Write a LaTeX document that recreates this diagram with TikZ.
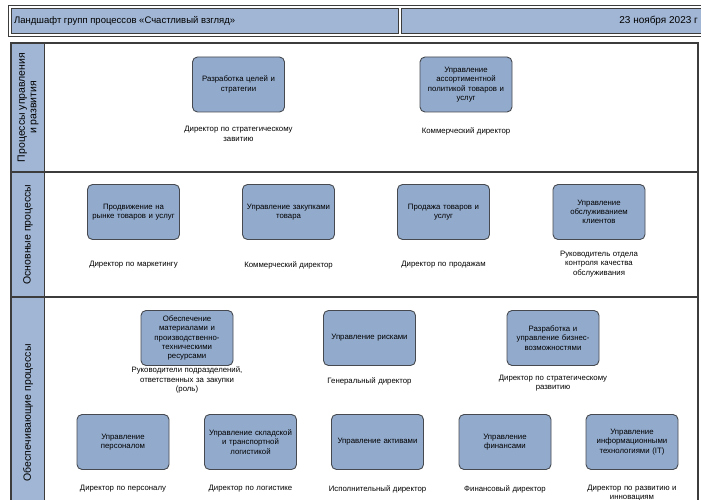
\documentclass[tikz,border=0pt]{standalone}
\usepackage{fontspec}
\setmainfont{Liberation Sans}
\definecolor{hdrfill}{RGB}{160,182,212}
\definecolor{boxfill}{RGB}{146,170,204}
\definecolor{boxline}{RGB}{70,74,80}
\definecolor{frameline}{RGB}{60,60,60}
\begin{document}
\begin{tikzpicture}[x=1pt,y=-1pt,
  proc/.style={draw=boxline, fill=boxfill, rounded corners=5pt, line width=0.9pt,
    minimum width=90pt, minimum height=55pt, text width=92pt, align=center,
    inner sep=0pt, font=\fontsize{7.8}{9.3}\selectfont},
  role/.style={align=center, text width=130pt, inner sep=0pt,
    font=\fontsize{7.8}{9.6}\selectfont},
  lanelabel/.style={rotate=90, align=center, font=\fontsize{10.5}{11.5}\selectfont}]
\useasboundingbox (0,0) rectangle (701,500);
\fill[white] (0,0) rectangle (701,500);
% header
\draw[frameline, line width=0.8pt] (8,5) rectangle (712,36);
\draw[frameline, fill=hdrfill, line width=0.8pt] (11,8) rectangle (398,33);
\draw[frameline, fill=hdrfill, line width=0.8pt] (401,8) rectangle (712,33);
\node[anchor=west, font=\fontsize{9.5}{11}\selectfont, inner sep=0pt] (title) at (14,20.5) {Ландшафт групп процессов «Счастливый взгляд»};
\node[anchor=east, font=\fontsize{10}{12}\selectfont, inner sep=0pt] (date) at (698,21) {23 ноября 2023 г};
% lanes
\fill[hdrfill] (11,43) rectangle (44,530);
\draw[frameline, line width=1.2pt] (11,43) rectangle (698,530);
\draw[frameline, line width=1.2pt] (11,172) -- (698,172);
\draw[frameline, line width=1.2pt] (11,297) -- (698,297);
\draw[frameline, line width=0.9pt] (44,43) -- (44,530);
\node[lanelabel] (l1) at (28,107.5) {Процессы управления\\и развития};
\node[lanelabel] (l2) at (28,234.5) {Основные процессы};
\node[lanelabel] (l3) at (28,413) {Обеспечивающие процессы};
% lane 1
\node[proc] (a1) at (238.5,84.5) {Разработка целей и\\стратегии};
\node[role] (r1) at (238.5,134) {Директор по стратегическому\\завитию};
\node[proc] (a2) at (466,84.5) {Управление\\ассортиментной\\политикой товаров и\\услуг};
\node[role] (r2) at (466,131) {Коммерческий директор};
% lane 2
\node[proc] (b1) at (133.5,212) {Продвижение на\\рынке товаров и услуг};
\node[role] (s1) at (133.5,265) {Директор по маркетингу};
\node[proc] (b2) at (288.5,212) {Управление закупками\\товара};
\node[role] (s2) at (288.5,265) {Коммерческий директор};
\node[proc] (b3) at (443.5,212) {Продажа товаров и\\услуг};
\node[role] (s3) at (443.5,265) {Директор по продажам};
\node[proc] (b4) at (599,212) {Управление\\обслуживанием\\клиентов};
\node[role] (s4) at (599,264) {Руководитель отдела\\контроля качества\\обслуживания};
% lane 3 row 1
\node[proc] (c1) at (187,338) {Обеспечение\\материалами и\\производственно-\\техническими\\ресурсами};
\node[role] (t1) at (187,380) {Руководители подразделений,\\ответственных за закупки\\(роль)};
\node[proc] (c2) at (369.5,338) {Управление рисками};
\node[role] (t2) at (369.5,381) {Генеральный директор};
\node[proc] (c3) at (553,338) {Разработка и\\управление бизнес-\\возможностями};
\node[role] (t3) at (553,383) {Директор по стратегическому\\развитию};
% lane 3 row 2
\node[proc] (d1) at (123,442) {Управление\\персоналом};
\node[role] (u1) at (123,489) {Директор по персоналу};
\node[proc] (d2) at (250.5,442) {Управление складской\\и транспортной\\логистикой};
\node[role] (u2) at (250.5,489) {Директор по логистике};
\node[proc] (d3) at (377.5,442) {Управление активами};
\node[role] (u3) at (377.5,489) {Исполнительный директор};
\node[proc] (d4) at (505,442) {Управление\\финансами};
\node[role] (u4) at (505,489) {Финансовый директор};
\node[proc] (d5) at (632,442) {Управление\\информационными\\технологиями (IT)};
\node[role] (u5) at (632,493) {Директор по развитию и\\инновациям};
\end{tikzpicture}
\end{document}
